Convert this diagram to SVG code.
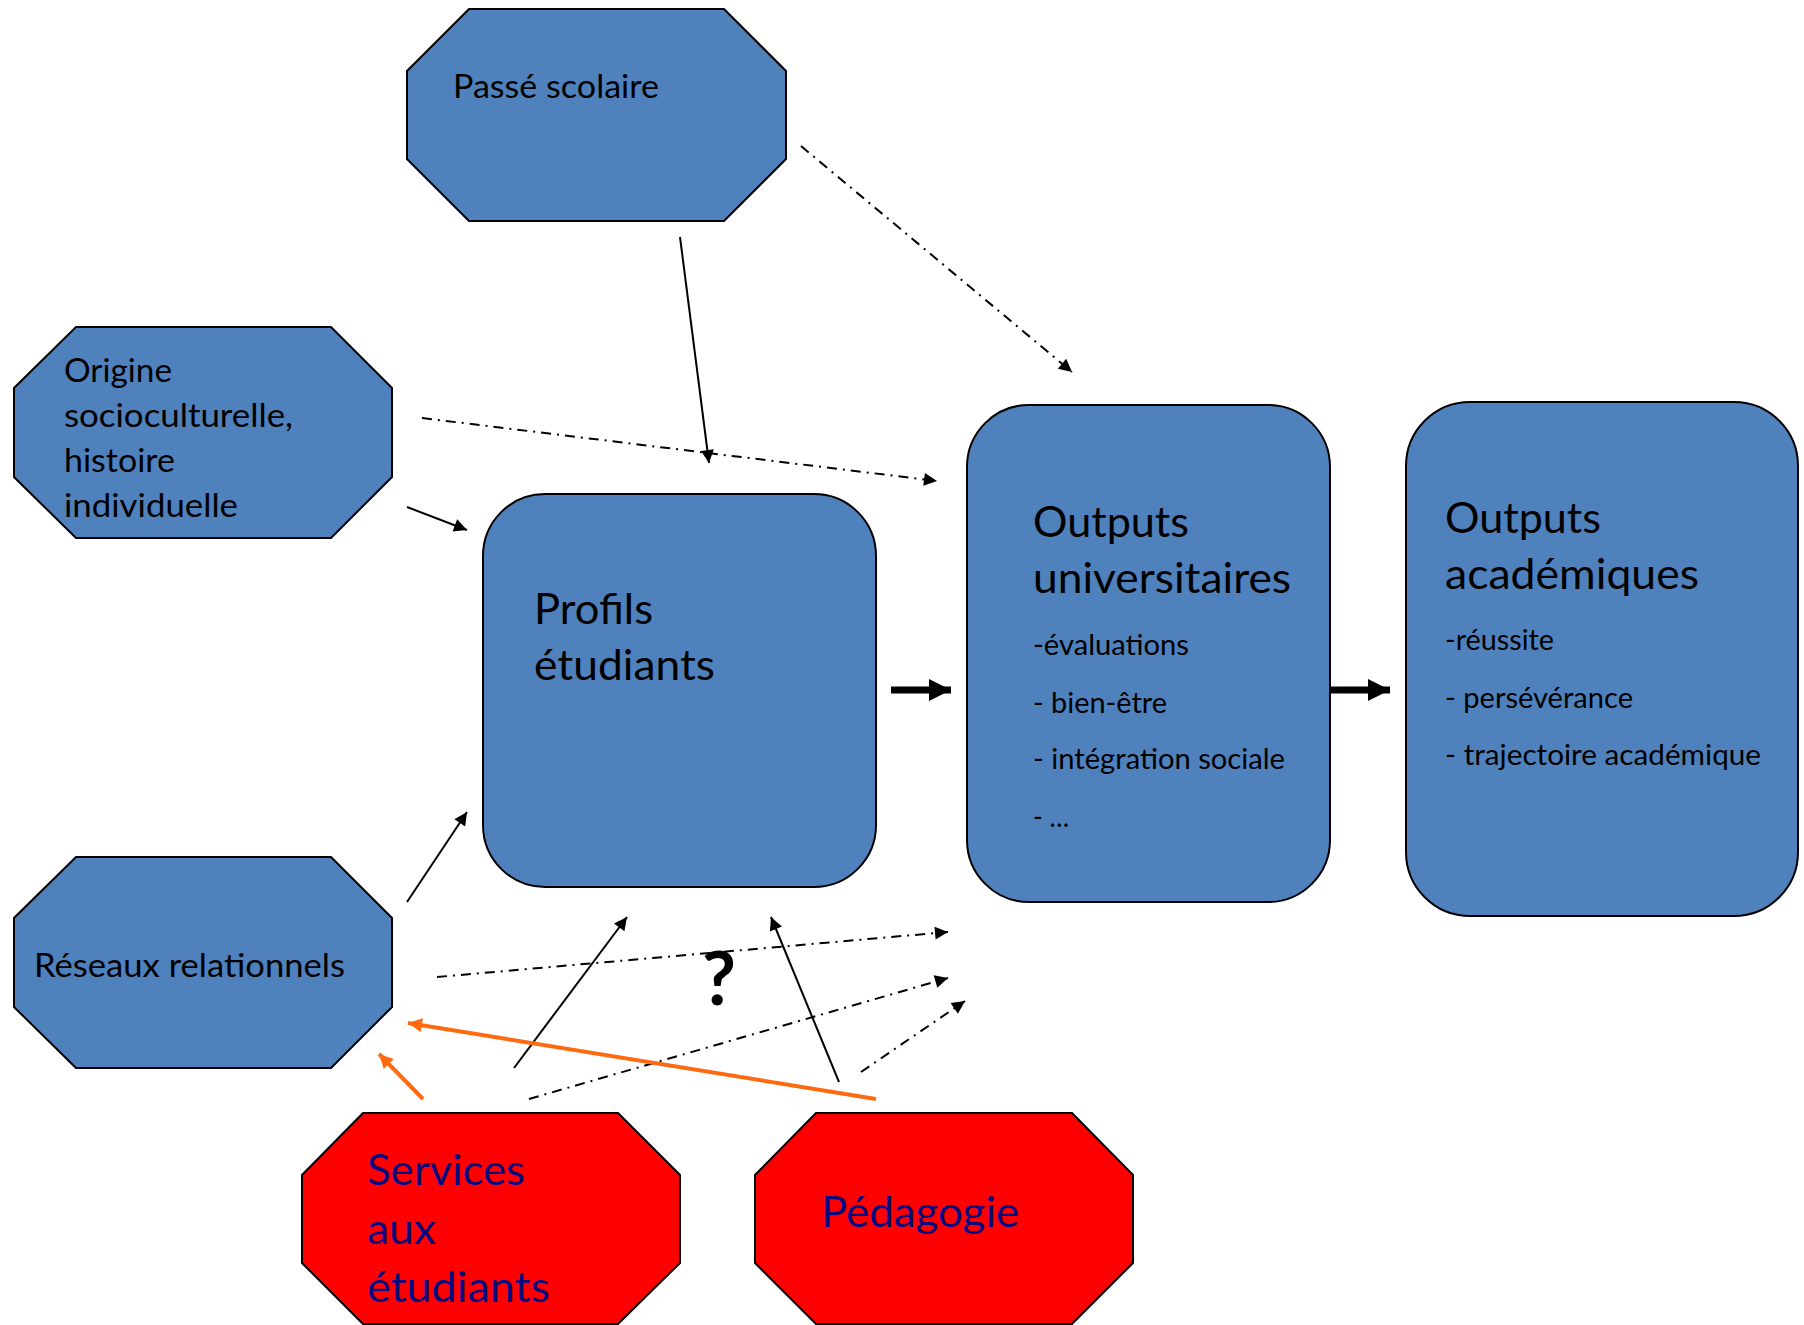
<svg xmlns="http://www.w3.org/2000/svg" width="1804" height="1325" viewBox="0 0 1804 1325">
<style>
.blue{fill:#4F81BD;stroke:#000;stroke-width:2}
.red{fill:#FF0000;stroke:#000;stroke-width:2}
text{font-family:Lato,"Open Sans","Liberation Sans",sans-serif;fill:#000}
.big{font-size:43px}
.med{font-size:33px}
.sub{font-size:28.5px}
.navy{fill:#0A0A80}
.solid{stroke:#000;stroke-width:2;fill:none}
.dd{stroke:#000;stroke-width:2;fill:none;stroke-dasharray:10 6 2 6}
.thick{stroke:#000;stroke-width:7;fill:none}
.orange{stroke:#FF6A10;stroke-width:4;fill:none}
</style>
<defs>
<marker id="ah" viewBox="0 0 10 10" refX="10" refY="5" markerUnits="userSpaceOnUse" markerWidth="17" markerHeight="13" orient="auto"><path d="M0,0 L10,5 L0,10 z" fill="#000"/></marker>
<marker id="ahT" viewBox="0 0 10 10" refX="10" refY="5" markerUnits="userSpaceOnUse" markerWidth="22" markerHeight="22" orient="auto"><path d="M0,0 L10,5 L0,10 z" fill="#000"/></marker>
<marker id="ahO" viewBox="0 0 10 10" refX="10" refY="5" markerUnits="userSpaceOnUse" markerWidth="17" markerHeight="14" orient="auto"><path d="M0,0 L10,5 L0,10 z" fill="#FF6A10"/></marker>
</defs>
<rect width="1804" height="1325" fill="#fff"/>

<g id="passe-scolaire">
<polygon class="blue" points="469,9 724,9 786,71 786,159 724,221 469,221 407,159 407,71"/>
<text class="med" x="453" y="98" textLength="206" lengthAdjust="spacingAndGlyphs">Passé scolaire</text>
</g>

<g id="origine">
<polygon class="blue" points="76,327 331,327 392,388 392,477 331,538 76,538 14,477 14,388"/>
<text class="med" x="64" y="382" textLength="108" lengthAdjust="spacingAndGlyphs">Origine</text>
<text class="med" x="64" y="427" textLength="229" lengthAdjust="spacingAndGlyphs">socioculturelle,</text>
<text class="med" x="64" y="472" textLength="111" lengthAdjust="spacingAndGlyphs">histoire</text>
<text class="med" x="64" y="517" textLength="174" lengthAdjust="spacingAndGlyphs">individuelle</text>
</g>

<g id="reseaux">
<polygon class="blue" points="76,857 331,857 392,918 392,1007 331,1068 76,1068 14,1007 14,918"/>
<text class="med" x="34" y="977" textLength="311" lengthAdjust="spacingAndGlyphs">Réseaux relationnels</text>
</g>

<g id="profils">
<rect class="blue" x="483" y="494" width="393" height="393" rx="62" ry="62"/>
<text class="big" x="534" y="624" textLength="119" lengthAdjust="spacingAndGlyphs">Profils</text>
<text class="big" x="534" y="680" textLength="181" lengthAdjust="spacingAndGlyphs">étudiants</text>
</g>

<g id="outputs-universitaires">
<rect class="blue" x="967" y="405" width="363" height="497" rx="62" ry="62"/>
<text class="big" x="1033" y="537" textLength="156" lengthAdjust="spacingAndGlyphs">Outputs</text>
<text class="big" x="1033" y="593" textLength="258" lengthAdjust="spacingAndGlyphs">universitaires</text>
<text class="sub" x="1033" y="655" textLength="156" lengthAdjust="spacingAndGlyphs">-évaluations</text>
<text class="sub" x="1033" y="713" textLength="134" lengthAdjust="spacingAndGlyphs">- bien-être</text>
<text class="sub" x="1033" y="769" textLength="252" lengthAdjust="spacingAndGlyphs">- intégration sociale</text>
<text class="sub" x="1033" y="827" textLength="36" lengthAdjust="spacingAndGlyphs">- …</text>
</g>

<g id="outputs-academiques">
<rect class="blue" x="1406" y="402" width="392" height="514" rx="64" ry="64"/>
<text class="big" x="1445" y="533" textLength="156" lengthAdjust="spacingAndGlyphs">Outputs</text>
<text class="big" x="1445" y="589" textLength="254" lengthAdjust="spacingAndGlyphs">académiques</text>
<text class="sub" x="1445" y="650" textLength="109" lengthAdjust="spacingAndGlyphs">-réussite</text>
<text class="sub" x="1445" y="708" textLength="188" lengthAdjust="spacingAndGlyphs">- persévérance</text>
<text class="sub" x="1445" y="765" textLength="316" lengthAdjust="spacingAndGlyphs">- trajectoire académique</text>
</g>

<g id="services">
<polygon class="red" points="363,1113 618,1113 680,1175 680,1263 618,1324 363,1324 302,1263 302,1175"/>
<text class="big navy" x="367" y="1185" textLength="158" lengthAdjust="spacingAndGlyphs">Services</text>
<text class="big navy" x="367" y="1244" textLength="69" lengthAdjust="spacingAndGlyphs">aux</text>
<text class="big navy" x="367" y="1302" textLength="183" lengthAdjust="spacingAndGlyphs">étudiants</text>
</g>

<g id="pedagogie">
<polygon class="red" points="816,1113 1072,1113 1133,1175 1133,1263 1072,1324 816,1324 755,1263 755,1175"/>
<text class="big navy" x="821" y="1227" textLength="198" lengthAdjust="spacingAndGlyphs">Pédagogie</text>
</g>

<g id="question">
<text x="719" y="1005" text-anchor="middle" style="font-size:74px;font-weight:bold">?</text>
</g>

<g id="connectors">
<line class="dd" x1="801" y1="146" x2="1072" y2="372" marker-end="url(#ah)"/>
<line class="solid" x1="680" y1="237" x2="709" y2="463" marker-end="url(#ah)"/>
<line class="dd" x1="422" y1="418" x2="937" y2="481" marker-end="url(#ah)"/>
<line class="solid" x1="407" y1="507" x2="467" y2="530" marker-end="url(#ah)"/>
<line class="solid" x1="407" y1="902" x2="467" y2="812" marker-end="url(#ah)"/>
<line class="dd" x1="437" y1="977" x2="948" y2="932" marker-end="url(#ah)"/>
<line class="solid" x1="514" y1="1068" x2="627" y2="917" marker-end="url(#ah)"/>
<line class="dd" x1="529" y1="1099" x2="948" y2="978" marker-end="url(#ah)"/>
<line class="solid" x1="839" y1="1082" x2="771" y2="917" marker-end="url(#ah)"/>
<line class="dd" x1="861" y1="1072" x2="965" y2="1001" marker-end="url(#ah)"/>
<line class="orange" x1="876" y1="1099" x2="408" y2="1023" marker-end="url(#ahO)"/>
<line class="orange" x1="423" y1="1099" x2="379" y2="1054" marker-end="url(#ahO)"/>
<line class="thick" x1="891" y1="690" x2="951" y2="690" marker-end="url(#ahT)"/>
<line class="thick" x1="1331" y1="690" x2="1390" y2="690" marker-end="url(#ahT)"/>
</g>
</svg>
